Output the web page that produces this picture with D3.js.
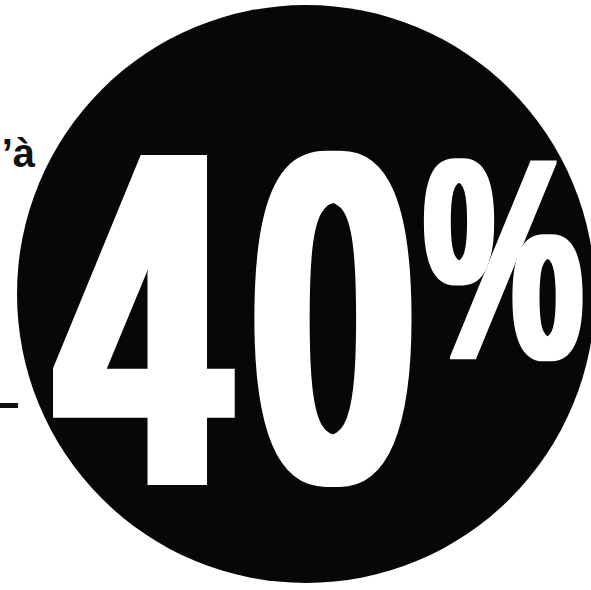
<!DOCTYPE html>
<html>
<head>
<meta charset="utf-8">
<script src="https://cdn.jsdelivr.net/npm/d3@7"></script>
<style>
  html, body { margin: 0; padding: 0; background: #fff; overflow: hidden; }
</style>
</head>
<body>
<svg id="badge"></svg>
<script>
// badge content
const discount = 40;
const glyphs = String(discount).split("").concat(["%"]);   // "4", "0", "%"
const sideText = ["jusqu’à"];

// ink boxes of each glyph on the page, plus how much to fatten it (x, y)
const glyphBoxes = [
  { x0: 53,  y0: 154, x1: 236, y1: 485, fx: 10, fy: 0 },
  { x0: 253, y0: 150, x1: 413, y1: 487, fx: 7,  fy: 0 },
  { x0: 423, y0: 157, x1: 583, y1: 362, fx: 4,  fy: 1 }
];

const width = 591;
const height = 590;
const disc = { cx: 306, cy: 294, r: 289 };
const ink = "#070707";
const fontFamily = "'Liberation Sans Narrow', 'Liberation Sans', Arial, sans-serif";

const svg = d3.select("#badge")
  .attr("width", width)
  .attr("height", height)
  .attr("viewBox", `0 0 ${width} ${height}`);

svg.append("rect").attr("width", width).attr("height", height).attr("fill", "#fff");

const defs = svg.append("defs");

// black disc
svg.append("circle")
  .attr("cx", disc.cx)
  .attr("cy", disc.cy)
  .attr("r", disc.r)
  .attr("fill", ink);

// measure actual ink bounds of a glyph
const ctx = document.createElement("canvas").getContext("2d");
const baseSize = 200;
ctx.font = `bold ${baseSize}px ${fontFamily}`;

const measure = ch => {
  const m = ctx.measureText(ch);
  return {
    left: -m.actualBoundingBoxLeft,
    right: m.actualBoundingBoxRight,
    top: -m.actualBoundingBoxAscent,
    bottom: m.actualBoundingBoxDescent
  };
};

glyphs.forEach((ch, i) => {
  const box = glyphBoxes[i];
  const b = measure(ch);

  const fid = "fat" + i;
  defs.append("filter")
    .attr("id", fid)
    .attr("filterUnits", "userSpaceOnUse")
    .attr("x", 0).attr("y", 0)
    .attr("width", width).attr("height", height)
    .append("feMorphology")
    .attr("operator", "dilate")
    .attr("radius", `${box.fx} ${box.fy}`);

  const bx0 = box.x0 + box.fx, bx1 = box.x1 - box.fx;
  const by0 = box.y0 + box.fy, by1 = box.y1 - box.fy;
  const sx = (bx1 - bx0) / (b.right - b.left);
  const sy = (by1 - by0) / (b.bottom - b.top);

  svg.append("g")
    .attr("filter", `url(#${fid})`)
    .append("text")
    .attr("x", 0)
    .attr("y", 0)
    .attr("transform", `translate(${bx0 - b.left * sx},${by0 - b.top * sy}) scale(${sx},${sy})`)
    .style("font-family", fontFamily)
    .style("font-weight", "bold")
    .style("font-size", baseSize + "px")
    .attr("fill", "#fff")
    .text(ch);
});

// text running in from the left margin
svg.append("text")
  .attr("x", 35)
  .attr("y", 167)
  .attr("text-anchor", "end")
  .style("font-family", "'Liberation Sans', Arial, sans-serif")
  .style("font-weight", "bold")
  .style("font-size", "40px")
  .attr("fill", "#111")
  .text(sideText[0]);

// end of a rule at the left edge
svg.append("rect")
  .attr("x", 0)
  .attr("y", 403)
  .attr("width", 18)
  .attr("height", 5)
  .attr("fill", "#111");
</script>
</body>
</html>
